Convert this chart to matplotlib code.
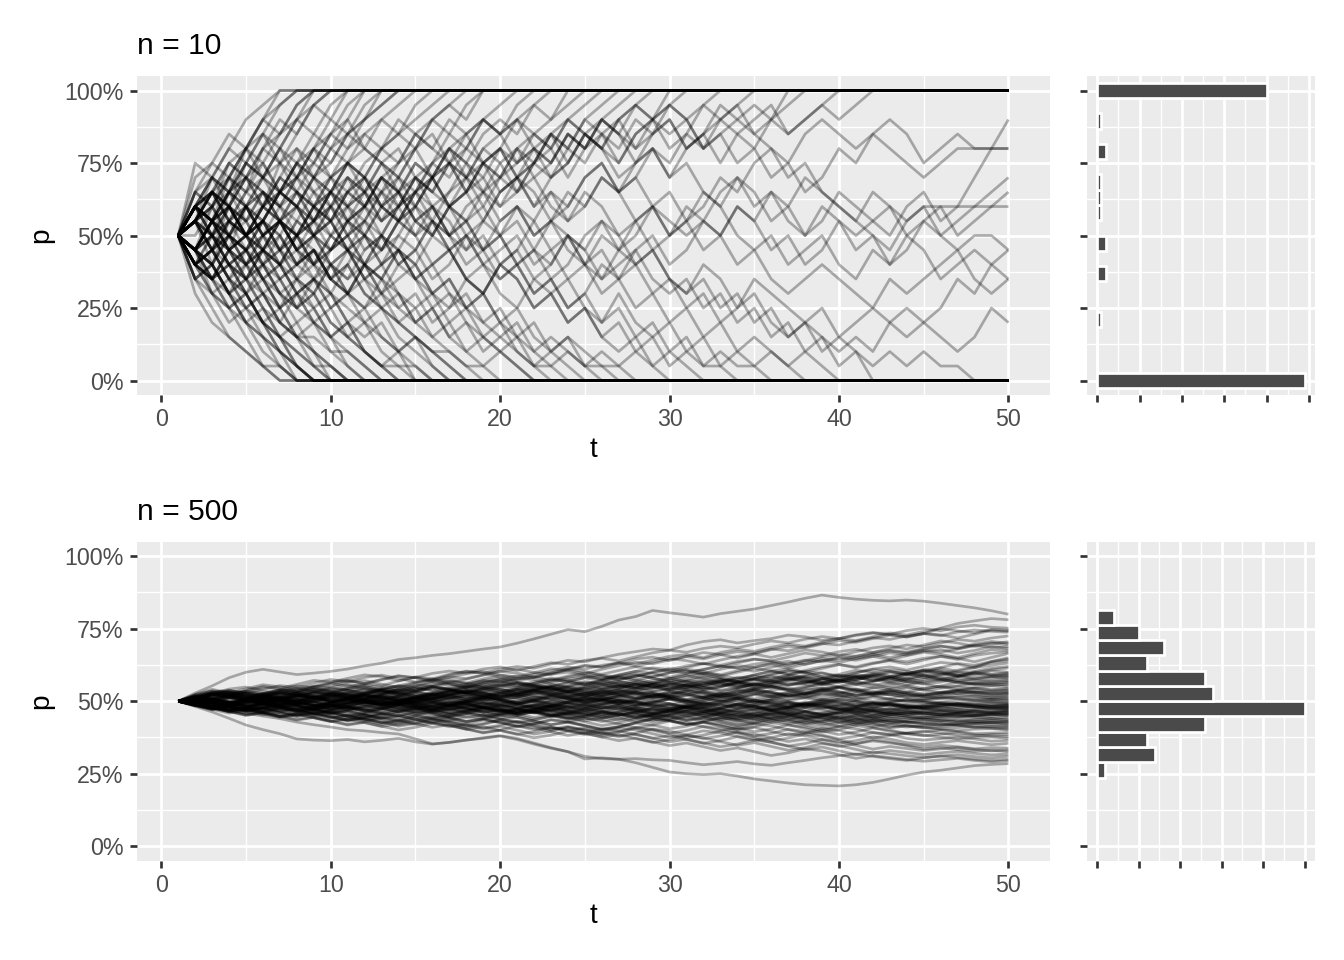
import matplotlib.pyplot as plt
import numpy as np

T = list(range(1, 51))

# n = 10: allele count out of 20 at t = 1, 2, ...; a path ends once fixed
paths_n10 = [
    # fixed at 1
    [10, 14, 15, 17, 16, 18, 20],
    [10, 12, 14, 13, 16, 18, 19, 20],
    [10, 11, 14, 16, 15, 17, 19, 20],
    [10, 9, 12, 13, 15, 17, 16, 18, 20],
    [10, 12, 11, 14, 13, 16, 17, 19, 20],
    [10, 13, 12, 14, 16, 15, 17, 18, 19, 20],
    [10, 11, 13, 12, 15, 14, 16, 18, 17, 19, 20],
    [10, 12, 10, 13, 14, 16, 15, 17, 19, 18, 20],
    [10, 9, 11, 13, 12, 14, 13, 15, 17, 16, 18, 20],
    [10, 11, 12, 15, 14, 12, 14, 16, 15, 17, 19, 20],
    [10, 8, 10, 9, 12, 11, 13, 15, 14, 16, 17, 19, 20],
    [10, 12, 13, 11, 13, 14, 16, 14, 15, 17, 16, 18, 20],
    [10, 10, 12, 14, 13, 15, 13, 14, 16, 18, 17, 18, 19, 20],
    [10, 11, 9, 12, 14, 13, 12, 14, 16, 15, 17, 18, 19, 20],
    [10, 9, 8, 11, 10, 12, 14, 13, 15, 14, 16, 17, 18, 19, 20],
    [10, 12, 14, 13, 11, 12, 15, 16, 14, 15, 17, 16, 18, 17, 19, 20],
    [10, 11, 13, 12, 10, 11, 13, 12, 14, 16, 15, 14, 16, 17, 18, 19, 20],
    [10, 8, 9, 7, 9, 10, 12, 11, 13, 14, 13, 15, 16, 15, 17, 18, 19, 20],
    [10, 12, 11, 9, 10, 12, 13, 12, 11, 13, 15, 14, 16, 17, 16, 18, 19, 18, 20],
    [10, 9, 11, 10, 12, 11, 13, 14, 12, 13, 15, 16, 15, 14, 16, 18, 17, 19, 20],
    [10, 11, 10, 12, 14, 15, 13, 12, 14, 13, 11, 12, 14, 15, 17, 16, 15, 17, 18, 19, 20],
    [10, 13, 14, 12, 11, 13, 12, 10, 11, 13, 14, 12, 13, 15, 16, 14, 16, 17, 18, 17, 19, 20],
    [10, 8, 7, 9, 8, 10, 11, 9, 11, 12, 14, 13, 15, 14, 12, 14, 16, 15, 17, 18, 17, 19, 20],
    [10, 12, 13, 15, 16, 14, 15, 13, 12, 14, 15, 13, 12, 14, 13, 15, 16, 14, 16, 17, 18, 19, 18, 20],
    [10, 9, 10, 12, 11, 9, 8, 10, 11, 13, 12, 14, 13, 11, 12, 14, 15, 13, 15, 16, 18, 17, 18, 19, 20],
    [10, 11, 13, 12, 10, 9, 11, 10, 12, 11, 13, 14, 12, 13, 15, 14, 16, 15, 13, 14, 16, 17, 16, 18, 19, 20],
    [10, 7, 8, 6, 8, 9, 11, 10, 8, 9, 11, 12, 10, 12, 13, 11, 13, 14, 15, 14, 16, 15, 17, 16, 18, 19, 20],
    [10, 12, 11, 13, 15, 14, 16, 15, 13, 12, 10, 11, 13, 12, 14, 13, 15, 14, 12, 14, 15, 16, 17, 15, 17, 18, 19, 20],
    [10, 11, 9, 10, 8, 9, 11, 12, 10, 11, 13, 12, 14, 13, 11, 10, 12, 14, 13, 15, 16, 14, 15, 17, 16, 18, 17, 19, 20],
    [10, 13, 15, 14, 16, 17, 15, 14, 16, 17, 18, 16, 15, 13, 14, 12, 13, 15, 14, 16, 15, 17, 16, 18, 17, 16, 18, 19, 18, 20],
    [10, 9, 11, 12, 10, 9, 7, 8, 10, 9, 11, 10, 12, 11, 13, 14, 12, 13, 15, 14, 13, 15, 16, 14, 16, 17, 15, 17, 18, 19, 20],
    [10, 12, 10, 11, 13, 12, 14, 13, 11, 10, 12, 13, 11, 12, 14, 13, 12, 10, 11, 13, 14, 16, 15, 17, 16, 18, 17, 16, 18, 19,
     18, 19, 20],
    [10, 11, 12, 10, 9, 11, 10, 8, 9, 7, 8, 10, 9, 11, 12, 10, 12, 13, 11, 13, 14, 12, 14, 15, 17, 16, 15, 17, 18, 16,
     17, 19, 18, 19, 20],
    [10, 8, 9, 11, 10, 12, 11, 9, 10, 12, 14, 13, 15, 16, 14, 15, 17, 16, 18, 17, 15, 16, 14, 15, 17, 16, 14, 15, 17, 18,
     16, 17, 19, 18, 19, 18, 20],
    [10, 12, 13, 11, 12, 10, 11, 13, 12, 14, 12, 11, 13, 14, 16, 17, 15, 16, 18, 17, 18, 16, 15, 17, 16, 18, 17, 15, 16, 14,
     16, 17, 18, 19, 17, 18, 19, 20],
    [10, 9, 10, 8, 7, 9, 8, 10, 11, 9, 10, 12, 11, 13, 12, 14, 15, 13, 14, 12, 13, 15, 14, 16, 15, 17, 18, 16, 17, 18,
     16, 17, 15, 17, 18, 19, 17, 18, 19, 20],
    [10, 11, 13, 14, 12, 13, 11, 12, 10, 11, 9, 10, 12, 11, 13, 14, 12, 11, 13, 12, 14, 13, 11, 12, 14, 15, 13, 14, 16, 15,
     17, 16, 18, 17, 16, 18, 17, 18, 19, 18, 19, 20],
    [10, 15, 14, 16, 18, 19, 20],
    [10, 11, 13, 15, 14, 16, 18, 17, 19, 20],
    [10, 13, 12, 14, 16, 18, 17, 19, 20],
    # fixed at 0
    [10, 7, 5, 3, 2, 1, 0],
    [10, 8, 6, 5, 3, 1, 1, 0],
    [10, 9, 7, 5, 4, 2, 1, 0],
    [10, 8, 7, 8, 6, 4, 3, 1, 0],
    [10, 7, 6, 4, 5, 3, 2, 1, 0],
    [10, 9, 8, 6, 7, 5, 3, 2, 1, 0],
    [10, 11, 9, 7, 6, 4, 5, 3, 1, 0],
    [10, 8, 9, 7, 5, 6, 4, 3, 2, 1, 0],
    [10, 9, 7, 8, 6, 4, 3, 4, 2, 1, 0],
    [10, 12, 10, 9, 7, 8, 6, 4, 5, 3, 1, 0],
    [10, 8, 6, 7, 5, 6, 4, 3, 3, 2, 1, 0],
    [10, 9, 10, 8, 9, 7, 5, 6, 4, 3, 2, 1, 0],
    [10, 11, 9, 8, 6, 7, 5, 3, 4, 2, 2, 1, 0],
    [10, 8, 7, 9, 8, 6, 7, 5, 4, 3, 4, 2, 1, 0],
    [10, 12, 11, 9, 10, 8, 6, 5, 6, 4, 3, 2, 1, 0],
    [10, 9, 11, 10, 8, 7, 5, 6, 4, 5, 3, 2, 1, 1, 0],
    [10, 7, 8, 6, 7, 5, 4, 6, 5, 3, 4, 2, 1, 2, 0],
    [10, 11, 12, 10, 9, 11, 9, 7, 8, 6, 5, 4, 3, 2, 1, 0],
    [10, 8, 9, 7, 6, 8, 7, 5, 6, 4, 3, 4, 2, 1, 1, 0],
    [10, 12, 10, 11, 9, 8, 10, 8, 7, 5, 6, 4, 5, 3, 2, 1, 0],
    [10, 9, 8, 10, 9, 7, 6, 7, 5, 6, 4, 5, 3, 2, 3, 1, 0],
    [10, 11, 9, 10, 12, 10, 8, 9, 7, 6, 8, 6, 5, 4, 3, 2, 1, 0],
    [10, 8, 10, 9, 7, 8, 6, 5, 7, 6, 4, 3, 4, 2, 3, 2, 1, 0],
    [10, 9, 11, 12, 10, 9, 7, 8, 9, 7, 6, 5, 6, 4, 3, 2, 2, 1, 0],
    [10, 12, 13, 11, 10, 11, 9, 8, 9, 7, 8, 6, 5, 4, 5, 3, 2, 1, 1, 0],
    [10, 9, 7, 8, 9, 7, 8, 10, 9, 7, 6, 8, 6, 5, 4, 5, 3, 2, 1, 2, 1, 0],
    [10, 11, 10, 8, 9, 10, 8, 7, 9, 8, 6, 7, 5, 6, 4, 3, 4, 2, 3, 2, 1, 0],
    [10, 8, 9, 11, 10, 12, 11, 9, 10, 8, 9, 7, 8, 6, 5, 6, 4, 5, 3, 2, 3, 1, 0],
    [10, 12, 11, 13, 12, 10, 11, 9, 8, 10, 9, 7, 6, 8, 7, 5, 6, 4, 3, 4, 2, 1, 1, 0],
    [10, 9, 10, 8, 7, 9, 8, 6, 7, 8, 6, 5, 7, 6, 4, 5, 3, 4, 2, 3, 2, 1, 2, 1, 0],
    [10, 11, 13, 12, 14, 13, 11, 10, 12, 11, 9, 10, 8, 9, 7, 6, 7, 5, 4, 5, 3, 2, 1, 2, 1, 0],
    [10, 8, 7, 9, 10, 8, 9, 11, 10, 8, 7, 8, 6, 7, 8, 6, 5, 6, 4, 3, 4, 2, 3, 2, 1, 1, 0],
    [10, 12, 11, 9, 10, 11, 13, 12, 10, 11, 9, 8, 10, 9, 7, 8, 6, 5, 6, 4, 5, 3, 2, 3, 1, 2, 1, 0],
    [10, 9, 8, 10, 11, 9, 10, 8, 9, 7, 6, 8, 7, 9, 8, 6, 7, 5, 6, 4, 3, 4, 2, 3, 2, 1, 1, 2, 1, 0],
    [10, 11, 12, 10, 9, 11, 10, 12, 11, 13, 12, 10, 9, 11, 10, 8, 9, 7, 8, 6, 5, 7, 6, 4, 5, 3, 2, 3, 1, 2,
     1, 0],
    [10, 9, 11, 10, 12, 13, 11, 10, 8, 9, 10, 8, 7, 9, 8, 10, 9, 7, 6, 8, 7, 5, 6, 4, 5, 3, 4, 2, 3, 1,
     2, 1, 1, 0],
    [10, 12, 14, 13, 15, 14, 12, 13, 11, 12, 10, 11, 9, 10, 12, 11, 9, 10, 8, 7, 8, 6, 7, 5, 6, 4, 5, 3, 4, 2,
     3, 1, 2, 1, 1, 0],
    [10, 8, 9, 7, 8, 10, 9, 11, 10, 9, 11, 10, 8, 9, 7, 8, 9, 7, 6, 8, 7, 5, 6, 7, 5, 4, 6, 4, 3, 4,
     2, 3, 1, 2, 1, 2, 1, 0],
    [10, 11, 10, 12, 11, 13, 12, 14, 13, 11, 12, 13, 11, 12, 10, 11, 9, 10, 8, 9, 10, 8, 9, 7, 8, 6, 7, 5, 6, 4,
     5, 3, 4, 2, 3, 2, 1, 2, 1, 0],
    [10, 12, 11, 13, 14, 12, 13, 15, 14, 12, 13, 14, 12, 11, 13, 12, 10, 11, 12, 10, 11, 9, 8, 10, 9, 7, 8, 9, 7, 6,
     7, 5, 6, 4, 5, 3, 4, 2, 3, 1, 2, 0],
    [10, 9, 11, 12, 10, 11, 13, 12, 14, 13, 15, 14, 12, 13, 11, 12, 10, 11, 9, 10, 12, 11, 9, 10, 8, 9, 7, 8, 9, 7,
     6, 7, 5, 6, 4, 5, 3, 4, 2, 3, 2, 1, 2, 1, 2, 1, 1, 0],
    [10, 6, 4, 3, 2, 1, 0],
    [10, 9, 7, 6, 4, 3, 2, 0],
    [10, 7, 8, 6, 4, 3, 1, 0],
    [10, 11, 8, 6, 5, 4, 2, 1, 0],
    [10, 8, 7, 5, 6, 4, 2, 1, 0],
    [10, 9, 8, 6, 4, 5, 3, 1, 0],
    [10, 12, 11, 9, 7, 6, 4, 3, 2, 0],
    [10, 9, 6, 5, 6, 4, 3, 2, 1, 1, 0],
    # not fixed by t = 50
    [10, 12, 11, 13, 12, 10, 11, 9, 10, 12, 11, 13, 14, 12, 13, 15, 14, 16, 15, 13, 14, 12, 13, 11, 12,
     14, 13, 15, 16, 14, 15, 13, 12, 14, 13, 11, 12, 10, 11, 13, 12, 11, 10, 12, 13, 11, 12, 14, 16, 18],
    [10, 9, 11, 10, 12, 14, 13, 15, 16, 14, 15, 17, 16, 18, 17, 16, 18, 17, 15, 16, 14, 15, 17, 16, 18,
     17, 16, 18, 17, 19, 18, 16, 17, 15, 16, 14, 15, 13, 14, 16, 15, 17, 16, 15, 14, 15, 16, 16, 16, 16],
    [10, 11, 9, 10, 8, 9, 11, 10, 12, 13, 11, 12, 14, 13, 15, 14, 12, 13, 15, 16, 14, 15, 17, 18, 17,
     16, 18, 19, 18, 17, 18, 16, 17, 18, 17, 16, 15, 17, 18, 17, 16, 17, 18, 17, 15, 16, 17, 16, 16, 16],
    [10, 8, 9, 11, 12, 10, 11, 13, 12, 10, 9, 11, 10, 8, 9, 7, 8, 10, 9, 11, 12, 10, 11, 13, 12,
     14, 13, 11, 12, 10, 11, 9, 10, 12, 11, 13, 12, 14, 13, 12, 11, 10, 9, 11, 12, 10, 11, 12, 13, 14],
    [10, 12, 13, 11, 10, 12, 11, 9, 8, 10, 11, 9, 10, 12, 14, 13, 15, 14, 16, 15, 13, 14, 12, 11, 13,
     12, 10, 11, 9, 10, 12, 11, 13, 14, 12, 13, 11, 10, 12, 11, 9, 10, 8, 9, 11, 12, 10, 11, 12, 13],
    [10, 11, 10, 8, 7, 9, 8, 6, 7, 9, 10, 8, 9, 11, 10, 12, 11, 9, 10, 8, 9, 11, 13, 12, 14,
     15, 13, 14, 12, 13, 11, 12, 14, 13, 15, 16, 14, 15, 13, 12, 11, 13, 12, 11, 12, 12, 12, 12, 12, 12],
    [10, 9, 11, 12, 10, 11, 9, 10, 8, 7, 9, 8, 10, 9, 11, 12, 10, 9, 11, 10, 8, 9, 7, 8, 10,
     11, 9, 10, 12, 11, 10, 11, 10, 12, 11, 9, 10, 8, 9, 11, 10, 11, 12, 10, 9, 7, 8, 9, 8, 9],
    [10, 12, 11, 9, 10, 8, 9, 7, 6, 8, 7, 9, 10, 8, 9, 11, 10, 12, 13, 11, 12, 10, 11, 9, 8,
     10, 9, 11, 12, 10, 11, 13, 12, 10, 9, 10, 8, 9, 10, 8, 7, 9, 8, 10, 11, 10, 9, 10, 10, 9],
    [10, 8, 7, 9, 8, 6, 5, 7, 6, 8, 9, 7, 8, 10, 9, 11, 10, 8, 9, 7, 8, 6, 7, 5, 6,
     8, 7, 9, 10, 8, 9, 11, 10, 8, 9, 7, 6, 7, 8, 7, 6, 5, 7, 6, 7, 8, 9, 7, 6, 7],
    [10, 11, 13, 12, 10, 11, 9, 10, 12, 11, 13, 12, 14, 13, 11, 10, 12, 11, 9, 10, 8, 9, 11, 10, 8,
     7, 9, 8, 6, 7, 5, 6, 4, 5, 7, 6, 5, 4, 5, 3, 4, 5, 4, 3, 4, 5, 7, 6, 8, 7],
    [10, 9, 8, 10, 9, 7, 8, 6, 7, 5, 6, 8, 7, 5, 6, 4, 5, 7, 6, 8, 9, 7, 8, 10, 9,
     11, 10, 8, 9, 7, 6, 8, 7, 5, 6, 4, 3, 4, 3, 2, 3, 2, 4, 5, 4, 3, 2, 3, 5, 4],
]

# n = 500: allele frequency in per mille at t = 1..50
paths_n500 = [
    [500, 528, 553, 581, 600, 610, 601, 592, 597, 603, 611, 622, 631, 644, 650, 658, 664, 672, 680, 687, 700, 715, 731, 747, 740, 758, 780, 792, 813, 805, 798, 790, 802, 810, 818, 830, 842, 855, 866, 858, 852, 848, 846, 849, 845, 838, 830, 822, 812, 800],
    [500, 512, 526, 519, 535, 548, 541, 533, 549, 562, 570, 561, 575, 588, 581, 573, 590, 602, 597, 611, 620, 614, 628, 641, 636, 650, 662, 671, 680, 676, 694, 706, 712, 701, 709, 716, 728, 722, 710, 716, 727, 735, 730, 722, 733, 752, 768, 777, 785, 781],
    [500, 488, 497, 512, 525, 519, 531, 545, 538, 552, 566, 571, 559, 548, 562, 575, 584, 578, 591, 603, 597, 584, 596, 611, 624, 619, 633, 628, 642, 655, 661, 650, 668, 679, 672, 686, 697, 690, 704, 716, 709, 722, 735, 728, 741, 750, 743, 736, 748, 745],
    [500, 509, 521, 530, 518, 505, 514, 528, 541, 537, 549, 561, 553, 570, 584, 578, 565, 576, 590, 603, 611, 599, 592, 608, 622, 617, 631, 646, 652, 640, 655, 668, 661, 649, 663, 678, 690, 684, 697, 709, 703, 716, 728, 721, 734, 729, 718, 731, 745, 742],
    [500, 494, 507, 516, 511, 526, 539, 533, 520, 529, 544, 556, 549, 537, 552, 568, 575, 563, 577, 590, 584, 598, 612, 607, 595, 610, 623, 635, 629, 643, 654, 646, 660, 671, 666, 680, 674, 688, 699, 694, 707, 719, 713, 725, 733, 726, 739, 746, 741, 738],
    [500, 503, 491, 506, 520, 514, 527, 519, 508, 523, 538, 531, 545, 552, 540, 556, 569, 562, 549, 563, 577, 584, 572, 587, 598, 593, 606, 619, 611, 602, 616, 630, 624, 637, 645, 639, 652, 666, 658, 671, 679, 668, 682, 694, 688, 701, 713, 707, 718, 725],
    [500, 518, 530, 524, 537, 551, 545, 558, 572, 566, 579, 591, 585, 570, 582, 596, 604, 597, 611, 618, 606, 620, 633, 627, 641, 648, 639, 653, 667, 676, 669, 682, 690, 684, 697, 708, 701, 714, 723, 716, 729, 737, 730, 744, 751, 743, 756, 762, 755, 752],
    [500, 489, 476, 490, 503, 497, 511, 524, 518, 505, 519, 532, 527, 541, 536, 522, 535, 549, 560, 554, 547, 561, 574, 568, 582, 590, 583, 571, 585, 598, 604, 596, 610, 623, 617, 630, 638, 626, 640, 653, 648, 661, 673, 666, 679, 690, 684, 697, 706, 700],
    [500, 515, 528, 536, 525, 513, 527, 540, 552, 546, 558, 551, 539, 553, 566, 572, 561, 548, 562, 575, 588, 581, 594, 600, 589, 576, 590, 603, 615, 609, 622, 630, 618, 632, 645, 639, 626, 640, 654, 661, 655, 668, 676, 669, 682, 690, 681, 693, 701, 695],
    [500, 507, 499, 485, 498, 512, 506, 519, 531, 525, 512, 526, 539, 545, 534, 548, 560, 553, 567, 574, 562, 549, 563, 577, 584, 578, 591, 603, 596, 583, 597, 610, 622, 615, 628, 634, 621, 635, 648, 641, 655, 663, 650, 664, 675, 669, 680, 692, 686, 688],
    [500, 494, 508, 521, 534, 527, 515, 503, 517, 530, 544, 551, 540, 527, 539, 552, 566, 559, 571, 580, 568, 556, 570, 583, 591, 585, 572, 586, 599, 607, 596, 609, 621, 614, 603, 617, 630, 642, 636, 649, 641, 654, 667, 659, 672, 678, 666, 675, 689, 682],
    [500, 513, 507, 495, 509, 522, 530, 519, 532, 546, 539, 527, 541, 554, 548, 535, 549, 558, 571, 565, 553, 567, 580, 573, 560, 574, 587, 595, 584, 598, 610, 603, 591, 605, 618, 626, 614, 628, 641, 633, 647, 655, 643, 657, 669, 662, 650, 664, 678, 676],
    [500, 486, 499, 513, 506, 520, 533, 527, 514, 500, 512, 525, 538, 531, 545, 552, 541, 529, 543, 556, 549, 562, 575, 568, 556, 570, 583, 577, 564, 578, 591, 598, 586, 600, 613, 605, 592, 606, 619, 627, 615, 629, 642, 636, 648, 655, 644, 658, 666, 670],
    [500, 511, 524, 518, 506, 492, 505, 519, 512, 526, 539, 547, 535, 522, 536, 549, 543, 530, 544, 557, 565, 553, 541, 555, 568, 561, 575, 588, 581, 569, 583, 596, 590, 577, 591, 604, 612, 600, 613, 626, 619, 632, 640, 628, 642, 655, 648, 636, 651, 665],
    [500, 522, 536, 529, 543, 557, 550, 538, 552, 565, 573, 560, 574, 587, 581, 568, 582, 595, 603, 591, 578, 592, 605, 618, 611, 624, 632, 620, 634, 647, 640, 628, 642, 655, 663, 651, 664, 677, 670, 657, 671, 684, 691, 680, 694, 708, 701, 689, 698, 705],
    [500, 493, 480, 494, 507, 501, 488, 502, 515, 509, 496, 510, 523, 531, 519, 506, 520, 533, 527, 514, 528, 541, 549, 537, 551, 564, 558, 545, 559, 572, 566, 553, 567, 580, 588, 576, 590, 603, 597, 584, 598, 611, 619, 607, 621, 634, 628, 615, 637, 650],
    [500, 517, 531, 524, 511, 498, 512, 526, 533, 521, 508, 522, 536, 529, 516, 530, 543, 551, 539, 526, 540, 553, 547, 534, 548, 561, 569, 557, 544, 558, 571, 565, 552, 566, 579, 587, 575, 562, 576, 589, 583, 570, 584, 597, 605, 593, 607, 620, 633, 640],
    [500, 488, 501, 515, 528, 522, 509, 495, 509, 522, 530, 518, 505, 519, 532, 546, 540, 527, 541, 554, 562, 550, 537, 551, 564, 558, 545, 559, 572, 580, 568, 555, 569, 582, 576, 563, 577, 590, 598, 586, 573, 587, 600, 594, 607, 615, 603, 616, 624, 632],
    [500, 506, 519, 513, 500, 487, 501, 514, 528, 535, 523, 510, 524, 538, 531, 518, 532, 545, 553, 541, 528, 542, 555, 549, 536, 550, 563, 571, 559, 546, 560, 573, 567, 554, 568, 581, 589, 577, 564, 578, 591, 585, 572, 586, 599, 607, 595, 603, 614, 620],
    [500, 498, 511, 525, 518, 505, 519, 532, 540, 528, 515, 529, 542, 536, 523, 509, 523, 537, 544, 532, 519, 533, 546, 540, 527, 541, 554, 562, 550, 537, 551, 564, 558, 545, 559, 572, 580, 568, 555, 569, 582, 576, 563, 577, 590, 598, 586, 599, 608, 615],
    [500, 524, 541, 530, 516, 527, 539, 553, 547, 533, 520, 512, 526, 543, 558, 551, 537, 548, 563, 570, 556, 542, 550, 566, 580, 573, 559, 548, 561, 577, 588, 579, 566, 574, 590, 603, 595, 582, 570, 583, 598, 610, 604, 591, 600, 616, 630, 624, 637, 645],
    [500, 486, 472, 481, 495, 510, 503, 489, 497, 512, 526, 519, 505, 491, 503, 518, 532, 540, 529, 515, 522, 537, 551, 545, 531, 518, 530, 544, 559, 566, 553, 540, 549, 563, 576, 569, 555, 562, 577, 590, 584, 570, 578, 593, 606, 599, 587, 592, 605, 600],
    [500, 513, 529, 538, 527, 541, 554, 548, 563, 575, 568, 582, 590, 579, 566, 577, 593, 604, 597, 583, 571, 582, 598, 610, 603, 589, 576, 585, 600, 613, 606, 592, 580, 568, 579, 594, 606, 599, 585, 572, 583, 597, 609, 603, 590, 578, 587, 601, 593, 598],
    [500, 491, 504, 497, 484, 470, 483, 497, 490, 476, 489, 503, 516, 509, 495, 508, 522, 530, 518, 505, 513, 527, 540, 534, 520, 532, 546, 559, 552, 538, 547, 561, 574, 568, 554, 566, 580, 573, 560, 571, 585, 592, 580, 567, 575, 589, 601, 594, 588, 595],
    [500, 507, 520, 514, 528, 521, 507, 516, 530, 543, 537, 524, 511, 520, 534, 547, 541, 528, 536, 550, 563, 556, 543, 530, 539, 553, 566, 560, 547, 555, 569, 582, 576, 563, 550, 559, 573, 586, 580, 567, 575, 589, 602, 595, 582, 573, 584, 597, 591, 590],
    [500, 519, 512, 498, 507, 521, 534, 527, 513, 500, 509, 523, 536, 530, 517, 526, 540, 553, 547, 534, 542, 556, 549, 535, 522, 531, 545, 558, 552, 539, 547, 561, 574, 568, 555, 563, 577, 570, 557, 565, 579, 592, 586, 573, 581, 594, 588, 576, 580, 585],
    [500, 495, 482, 490, 504, 518, 511, 497, 485, 494, 508, 521, 515, 502, 511, 525, 538, 532, 519, 527, 541, 534, 521, 530, 544, 557, 551, 538, 546, 560, 553, 540, 549, 563, 576, 570, 557, 565, 578, 572, 559, 567, 581, 594, 588, 575, 569, 577, 585, 580],
    [500, 510, 523, 531, 520, 507, 515, 529, 542, 536, 523, 510, 518, 532, 545, 539, 526, 534, 548, 541, 528, 537, 551, 564, 558, 545, 553, 567, 560, 547, 556, 570, 563, 550, 558, 572, 585, 579, 566, 574, 588, 581, 568, 576, 590, 583, 571, 565, 572, 577],
    [500, 488, 497, 511, 504, 491, 478, 487, 501, 514, 508, 495, 503, 517, 530, 524, 511, 519, 533, 546, 540, 527, 535, 549, 542, 529, 538, 552, 565, 559, 546, 554, 568, 561, 548, 557, 571, 584, 578, 565, 573, 587, 580, 567, 559, 566, 579, 573, 568, 572],
    [500, 514, 507, 521, 534, 528, 515, 502, 511, 525, 518, 505, 492, 501, 515, 528, 522, 509, 517, 531, 544, 538, 525, 533, 547, 540, 527, 536, 550, 563, 557, 544, 552, 566, 559, 546, 555, 569, 562, 549, 557, 571, 584, 578, 565, 573, 566, 560, 563, 568],
    [500, 503, 516, 529, 523, 510, 497, 506, 520, 513, 500, 487, 496, 510, 523, 517, 504, 512, 526, 539, 533, 520, 528, 542, 535, 522, 531, 545, 558, 552, 539, 547, 561, 554, 541, 550, 564, 557, 544, 552, 566, 559, 546, 555, 569, 576, 564, 557, 561, 565],
    [500, 492, 505, 519, 512, 526, 539, 533, 520, 507, 516, 530, 523, 510, 497, 506, 520, 533, 527, 514, 522, 536, 529, 516, 525, 539, 552, 546, 533, 541, 555, 548, 535, 544, 558, 551, 538, 547, 561, 574, 568, 555, 563, 556, 543, 552, 566, 559, 554, 560],
    [500, 485, 494, 481, 468, 477, 491, 504, 498, 485, 493, 507, 520, 514, 501, 509, 523, 536, 530, 517, 525, 539, 532, 519, 528, 542, 555, 549, 536, 544, 558, 551, 538, 547, 561, 554, 541, 550, 564, 571, 559, 546, 554, 568, 561, 548, 553, 562, 559, 556],
    [500, 511, 527, 542, 549, 537, 524, 533, 547, 560, 554, 541, 528, 537, 551, 564, 558, 545, 553, 567, 580, 574, 561, 548, 557, 571, 584, 591, 579, 566, 574, 588, 581, 568, 577, 591, 604, 598, 585, 593, 607, 600, 587, 596, 609, 603, 590, 582, 585, 588],
    [500, 509, 496, 483, 491, 505, 518, 512, 499, 486, 495, 509, 522, 516, 503, 511, 525, 532, 520, 507, 515, 529, 522, 509, 496, 505, 519, 532, 526, 513, 521, 535, 528, 515, 524, 538, 545, 533, 520, 528, 542, 535, 522, 531, 545, 552, 540, 547, 553, 550],
    [500, 517, 530, 524, 511, 498, 506, 520, 533, 527, 514, 501, 488, 497, 511, 524, 518, 505, 513, 527, 520, 507, 494, 503, 517, 530, 524, 511, 519, 533, 526, 513, 522, 536, 543, 531, 518, 526, 540, 533, 520, 529, 543, 550, 538, 545, 551, 544, 540, 545],
    [500, 496, 483, 470, 479, 493, 506, 500, 487, 474, 483, 497, 510, 504, 491, 499, 513, 526, 520, 507, 515, 529, 522, 509, 518, 532, 539, 527, 514, 522, 536, 529, 516, 525, 539, 532, 519, 528, 542, 549, 537, 524, 532, 546, 539, 530, 536, 545, 538, 541],
    [500, 512, 505, 492, 500, 514, 527, 521, 508, 516, 530, 543, 537, 524, 511, 520, 534, 527, 514, 522, 536, 549, 543, 530, 517, 525, 539, 532, 519, 528, 542, 535, 522, 531, 545, 552, 540, 527, 535, 549, 542, 529, 538, 533, 526, 531, 540, 536, 534, 538],
    [500, 491, 484, 497, 510, 504, 491, 499, 513, 526, 520, 507, 494, 502, 516, 509, 496, 505, 519, 532, 526, 513, 521, 535, 528, 515, 502, 511, 525, 518, 505, 514, 528, 541, 535, 522, 530, 544, 537, 524, 533, 547, 540, 527, 521, 528, 537, 531, 530, 534],
    [500, 506, 520, 533, 527, 514, 522, 509, 496, 505, 519, 512, 499, 486, 495, 509, 522, 516, 503, 511, 525, 518, 505, 514, 528, 535, 523, 510, 518, 532, 525, 512, 521, 535, 528, 515, 524, 538, 545, 533, 520, 528, 522, 515, 521, 530, 526, 533, 527, 530],
    [500, 489, 502, 496, 483, 491, 505, 518, 512, 499, 507, 521, 514, 501, 488, 497, 511, 518, 506, 493, 501, 515, 508, 495, 504, 518, 531, 525, 512, 520, 534, 527, 514, 523, 537, 530, 517, 526, 540, 547, 535, 522, 530, 524, 517, 523, 532, 528, 521, 526],
    [500, 513, 526, 520, 507, 515, 529, 522, 509, 496, 504, 518, 531, 525, 512, 520, 534, 541, 529, 516, 524, 538, 531, 518, 505, 514, 528, 521, 508, 517, 531, 524, 511, 520, 534, 527, 514, 523, 537, 530, 517, 526, 533, 521, 515, 519, 528, 524, 518, 522],
    [500, 498, 485, 493, 507, 500, 487, 474, 483, 497, 510, 504, 491, 499, 513, 526, 520, 507, 515, 508, 495, 504, 518, 511, 498, 507, 521, 534, 528, 515, 523, 516, 503, 512, 526, 519, 506, 515, 529, 522, 509, 518, 525, 513, 507, 511, 520, 516, 512, 518],
    [500, 509, 523, 536, 530, 517, 504, 512, 526, 519, 506, 493, 501, 515, 508, 495, 482, 491, 505, 518, 512, 499, 507, 521, 514, 501, 510, 524, 531, 519, 506, 514, 528, 521, 508, 517, 531, 524, 511, 520, 513, 500, 509, 523, 516, 510, 514, 519, 511, 514],
    [500, 494, 481, 489, 503, 516, 510, 497, 505, 519, 512, 499, 486, 495, 509, 502, 489, 498, 512, 525, 519, 506, 514, 528, 521, 508, 495, 504, 518, 511, 498, 507, 521, 514, 501, 510, 524, 517, 504, 513, 527, 520, 507, 501, 508, 516, 511, 505, 507, 510],
    [500, 515, 508, 495, 503, 517, 530, 524, 511, 498, 506, 520, 513, 500, 487, 496, 510, 523, 517, 504, 491, 500, 514, 507, 494, 503, 517, 530, 524, 511, 519, 512, 499, 508, 522, 515, 502, 511, 525, 518, 505, 514, 507, 498, 503, 511, 508, 501, 503, 506],
    [500, 488, 476, 485, 499, 512, 506, 493, 501, 515, 528, 522, 509, 496, 504, 518, 511, 498, 485, 494, 508, 501, 488, 497, 511, 524, 518, 505, 513, 506, 493, 502, 516, 509, 496, 505, 519, 512, 499, 508, 501, 494, 500, 507, 502, 497, 504, 509, 506, 503],
    [500, 521, 535, 528, 515, 523, 537, 544, 532, 519, 527, 541, 534, 521, 508, 517, 531, 524, 511, 519, 533, 546, 540, 527, 514, 522, 536, 529, 516, 525, 539, 532, 519, 528, 542, 549, 537, 524, 532, 546, 539, 526, 535, 529, 522, 527, 536, 531, 525, 528],
    [500, 511, 504, 491, 499, 513, 506, 493, 480, 489, 503, 496, 483, 491, 505, 518, 512, 499, 507, 500, 487, 474, 483, 497, 510, 504, 491, 499, 492, 479, 488, 502, 515, 509, 496, 504, 497, 484, 493, 507, 500, 487, 495, 502, 496, 490, 494, 501, 497, 498],
    [500, 493, 506, 519, 513, 500, 508, 522, 515, 502, 489, 497, 511, 504, 491, 478, 487, 501, 494, 481, 490, 504, 517, 511, 498, 506, 499, 486, 495, 509, 502, 489, 498, 512, 505, 492, 479, 488, 502, 495, 482, 491, 498, 505, 499, 492, 488, 494, 499, 495],
    [500, 506, 494, 481, 490, 477, 486, 500, 513, 507, 494, 502, 516, 509, 496, 483, 492, 506, 499, 486, 495, 509, 522, 516, 503, 511, 504, 491, 478, 487, 501, 494, 481, 490, 504, 497, 484, 493, 507, 500, 487, 496, 489, 482, 488, 497, 493, 486, 489, 492],
    [500, 487, 478, 492, 505, 499, 486, 494, 508, 521, 515, 502, 489, 498, 512, 505, 492, 500, 514, 507, 494, 481, 490, 504, 497, 484, 492, 506, 519, 513, 500, 508, 501, 488, 475, 484, 498, 491, 478, 487, 501, 494, 481, 490, 497, 491, 484, 488, 494, 490],
    [500, 512, 525, 518, 505, 492, 501, 488, 475, 484, 498, 511, 505, 492, 499, 486, 473, 482, 496, 489, 476, 485, 499, 512, 506, 493, 501, 488, 497, 511, 504, 491, 478, 487, 501, 494, 481, 490, 504, 497, 484, 493, 486, 479, 485, 492, 487, 482, 485, 488],
    [500, 495, 482, 469, 478, 492, 486, 473, 481, 495, 508, 502, 489, 497, 511, 504, 491, 478, 487, 501, 494, 481, 468, 477, 491, 504, 498, 485, 493, 507, 500, 487, 495, 509, 502, 489, 476, 485, 499, 492, 479, 488, 495, 483, 477, 484, 491, 486, 482, 485],
    [500, 508, 521, 515, 502, 489, 497, 484, 471, 480, 494, 507, 501, 488, 496, 510, 503, 490, 477, 486, 500, 493, 480, 488, 502, 515, 509, 496, 504, 491, 478, 487, 501, 494, 481, 468, 477, 491, 484, 471, 480, 494, 487, 474, 480, 489, 485, 478, 481, 483],
    [500, 490, 503, 497, 484, 492, 506, 519, 513, 500, 487, 474, 483, 497, 490, 477, 486, 500, 513, 507, 494, 502, 489, 476, 485, 499, 492, 479, 466, 475, 489, 482, 469, 478, 492, 505, 499, 486, 494, 481, 468, 477, 491, 484, 478, 484, 490, 483, 477, 480],
    [500, 497, 510, 523, 517, 504, 491, 499, 486, 473, 482, 496, 489, 476, 463, 472, 486, 499, 493, 480, 488, 502, 495, 482, 491, 505, 518, 512, 499, 507, 494, 481, 490, 504, 497, 484, 471, 480, 494, 487, 474, 483, 490, 478, 472, 479, 486, 481, 475, 478],
    [500, 486, 473, 482, 496, 509, 503, 490, 498, 485, 472, 481, 495, 488, 475, 462, 471, 485, 498, 492, 479, 487, 501, 494, 481, 490, 504, 497, 484, 471, 480, 494, 507, 501, 488, 475, 484, 498, 491, 478, 465, 474, 488, 481, 475, 471, 479, 482, 473, 476],
    [500, 514, 507, 494, 481, 490, 504, 497, 484, 492, 479, 466, 475, 489, 502, 496, 483, 491, 478, 465, 474, 488, 481, 468, 477, 491, 504, 498, 485, 493, 480, 467, 476, 490, 483, 470, 479, 493, 486, 473, 482, 476, 469, 475, 482, 478, 471, 468, 472, 474],
    [500, 503, 490, 477, 486, 500, 513, 507, 494, 481, 490, 504, 497, 484, 471, 480, 494, 487, 474, 461, 470, 484, 477, 464, 473, 487, 500, 494, 481, 489, 476, 463, 472, 486, 479, 466, 475, 489, 482, 469, 478, 465, 472, 480, 475, 468, 463, 470, 476, 472],
    [500, 492, 479, 488, 502, 495, 482, 469, 478, 492, 505, 499, 486, 494, 481, 468, 455, 464, 478, 471, 458, 467, 481, 494, 488, 475, 483, 470, 457, 466, 480, 473, 460, 469, 483, 496, 490, 477, 485, 472, 459, 468, 475, 463, 457, 464, 471, 466, 462, 470],
    [500, 509, 522, 516, 503, 490, 498, 485, 472, 481, 495, 488, 475, 462, 471, 485, 498, 492, 479, 487, 474, 461, 470, 484, 477, 464, 451, 460, 474, 467, 454, 463, 477, 490, 484, 471, 479, 466, 453, 462, 476, 469, 462, 468, 475, 470, 463, 460, 465, 468],
    [500, 494, 481, 468, 477, 491, 504, 498, 485, 493, 480, 467, 476, 490, 483, 470, 457, 466, 480, 473, 460, 469, 483, 496, 490, 477, 485, 472, 459, 468, 482, 475, 462, 449, 458, 472, 465, 452, 461, 475, 468, 455, 464, 471, 459, 453, 460, 467, 462, 466],
    [500, 512, 505, 492, 479, 488, 475, 462, 471, 485, 478, 465, 474, 488, 501, 495, 482, 490, 477, 464, 473, 487, 480, 467, 454, 463, 477, 470, 457, 466, 480, 493, 487, 474, 482, 469, 456, 465, 479, 472, 459, 468, 461, 455, 462, 469, 464, 458, 461, 464],
    [500, 489, 497, 484, 471, 480, 494, 507, 501, 488, 475, 484, 498, 491, 478, 465, 474, 488, 481, 468, 455, 464, 478, 491, 485, 472, 480, 467, 454, 463, 477, 470, 457, 444, 453, 467, 460, 447, 456, 470, 463, 450, 459, 466, 460, 454, 458, 465, 459, 462],
    [500, 506, 493, 480, 489, 503, 496, 483, 470, 479, 493, 506, 500, 487, 495, 482, 469, 478, 492, 485, 472, 459, 468, 482, 475, 462, 471, 485, 498, 492, 479, 487, 474, 461, 470, 484, 477, 464, 451, 460, 474, 467, 454, 461, 468, 462, 456, 452, 457, 460],
    [500, 491, 478, 465, 474, 488, 481, 468, 477, 491, 504, 498, 485, 472, 481, 495, 488, 475, 462, 471, 485, 478, 465, 452, 461, 475, 488, 482, 469, 477, 464, 451, 460, 474, 467, 454, 463, 477, 470, 457, 444, 453, 462, 456, 450, 455, 462, 457, 453, 458],
    [500, 513, 506, 493, 480, 467, 476, 490, 483, 470, 479, 493, 506, 500, 487, 474, 483, 497, 490, 477, 464, 473, 487, 480, 467, 454, 463, 477, 470, 457, 466, 480, 473, 460, 447, 456, 470, 463, 450, 459, 473, 466, 453, 460, 465, 458, 452, 449, 453, 456],
    [500, 497, 484, 471, 480, 494, 487, 474, 461, 470, 484, 497, 491, 478, 486, 473, 460, 469, 483, 476, 463, 472, 486, 479, 466, 453, 462, 476, 489, 483, 470, 478, 465, 452, 461, 475, 468, 455, 442, 451, 465, 458, 445, 452, 459, 453, 447, 451, 457, 454],
    [500, 488, 475, 484, 498, 491, 478, 465, 474, 461, 448, 457, 471, 484, 478, 465, 473, 460, 447, 456, 470, 463, 450, 459, 473, 486, 480, 467, 475, 462, 449, 458, 472, 465, 452, 439, 448, 462, 455, 442, 451, 465, 458, 448, 443, 450, 456, 449, 447, 452],
    [500, 508, 495, 482, 491, 478, 465, 474, 488, 481, 468, 477, 491, 504, 498, 485, 472, 481, 468, 455, 464, 478, 471, 458, 467, 481, 474, 461, 448, 457, 471, 464, 451, 460, 474, 467, 454, 441, 450, 464, 457, 444, 453, 460, 454, 448, 445, 451, 455, 450],
    [500, 517, 510, 497, 505, 519, 512, 499, 486, 495, 509, 522, 516, 503, 511, 498, 485, 494, 508, 501, 488, 475, 484, 498, 511, 505, 492, 500, 487, 474, 483, 497, 490, 477, 486, 500, 493, 480, 489, 503, 496, 483, 492, 486, 480, 487, 493, 488, 483, 486],
    [500, 486, 499, 512, 506, 493, 480, 489, 503, 496, 483, 470, 479, 493, 486, 473, 482, 496, 509, 503, 490, 498, 485, 472, 481, 495, 488, 475, 462, 471, 485, 478, 491, 484, 471, 480, 494, 487, 474, 483, 490, 477, 471, 478, 485, 481, 474, 477, 482, 479],
    [500, 491, 478, 487, 474, 461, 470, 484, 477, 464, 451, 460, 474, 487, 481, 468, 476, 463, 450, 459, 473, 466, 453, 440, 449, 463, 456, 443, 452, 466, 479, 473, 460, 468, 455, 442, 451, 465, 458, 445, 432, 441, 455, 448, 442, 447, 453, 446, 441, 445],
    [500, 509, 496, 483, 470, 479, 493, 486, 473, 460, 469, 483, 476, 463, 472, 486, 499, 493, 480, 467, 476, 463, 450, 459, 473, 466, 453, 462, 449, 436, 445, 459, 452, 439, 448, 462, 455, 442, 451, 438, 425, 434, 448, 441, 435, 441, 447, 439, 436, 440],
    [500, 494, 481, 468, 477, 491, 484, 471, 458, 467, 481, 474, 461, 470, 457, 444, 453, 467, 480, 474, 461, 469, 456, 443, 452, 466, 459, 446, 455, 469, 462, 449, 436, 445, 459, 452, 439, 426, 435, 449, 442, 429, 438, 445, 439, 432, 430, 437, 441, 436],
    [500, 487, 474, 483, 497, 490, 477, 464, 473, 487, 480, 467, 454, 463, 477, 490, 484, 471, 479, 466, 453, 462, 476, 469, 456, 443, 452, 466, 459, 446, 433, 442, 456, 449, 436, 445, 459, 452, 439, 426, 435, 449, 442, 430, 425, 432, 438, 431, 428, 432],
    [500, 503, 490, 477, 464, 473, 460, 447, 456, 470, 463, 450, 459, 473, 486, 480, 467, 475, 462, 449, 458, 472, 465, 452, 439, 448, 462, 455, 442, 451, 465, 458, 445, 432, 441, 455, 448, 435, 422, 431, 445, 438, 425, 432, 439, 433, 427, 423, 426, 428],
    [500, 492, 505, 498, 485, 472, 481, 468, 455, 464, 478, 471, 458, 445, 454, 468, 481, 475, 462, 470, 457, 444, 453, 467, 460, 447, 434, 443, 457, 450, 437, 446, 460, 453, 440, 427, 436, 450, 443, 430, 417, 426, 434, 428, 421, 418, 425, 430, 427, 424],
    [500, 485, 472, 459, 468, 482, 475, 462, 449, 458, 472, 485, 479, 466, 474, 461, 448, 457, 471, 464, 451, 438, 447, 461, 454, 441, 450, 464, 477, 471, 458, 466, 453, 440, 449, 463, 456, 443, 430, 439, 453, 446, 433, 426, 431, 424, 418, 423, 426, 420],
    [500, 511, 498, 485, 494, 508, 501, 488, 475, 484, 471, 458, 467, 481, 474, 461, 448, 457, 471, 484, 478, 465, 473, 460, 447, 456, 443, 430, 439, 453, 446, 433, 442, 456, 449, 436, 423, 432, 446, 439, 426, 413, 422, 429, 423, 417, 420, 424, 419, 416],
    [500, 496, 483, 470, 479, 466, 453, 462, 476, 469, 456, 443, 452, 466, 479, 473, 460, 468, 455, 442, 451, 465, 458, 445, 432, 441, 455, 448, 435, 444, 458, 451, 438, 425, 434, 448, 441, 428, 415, 424, 438, 431, 418, 411, 416, 422, 417, 410, 414, 412],
    [500, 489, 476, 463, 472, 459, 446, 455, 469, 462, 449, 436, 445, 459, 452, 439, 448, 462, 475, 469, 456, 464, 451, 438, 447, 461, 454, 441, 428, 437, 451, 444, 431, 418, 427, 441, 434, 421, 430, 444, 437, 424, 411, 418, 412, 405, 409, 414, 411, 408],
    [500, 507, 494, 481, 468, 477, 491, 484, 471, 458, 467, 454, 441, 450, 464, 457, 444, 431, 440, 454, 467, 461, 448, 456, 443, 430, 439, 453, 446, 433, 420, 429, 443, 436, 423, 432, 446, 439, 426, 413, 422, 435, 428, 415, 408, 412, 418, 411, 407, 404],
    [500, 493, 480, 467, 454, 463, 477, 470, 457, 444, 453, 440, 427, 436, 450, 463, 457, 444, 452, 439, 426, 435, 449, 442, 429, 416, 425, 439, 452, 446, 433, 441, 428, 415, 424, 438, 431, 418, 405, 414, 428, 421, 408, 415, 409, 402, 398, 404, 406, 400],
    [500, 515, 508, 495, 482, 491, 505, 498, 485, 472, 481, 495, 488, 475, 462, 471, 485, 478, 465, 452, 461, 475, 468, 455, 464, 478, 471, 458, 445, 454, 468, 461, 448, 435, 444, 458, 451, 438, 447, 461, 454, 441, 432, 438, 445, 439, 433, 428, 434, 430],
    [500, 509, 496, 482, 470, 479, 466, 452, 461, 447, 434, 443, 457, 450, 437, 424, 433, 447, 440, 427, 414, 423, 437, 430, 417, 404, 413, 427, 440, 434, 421, 429, 416, 403, 412, 426, 419, 406, 393, 402, 416, 409, 396, 389, 394, 401, 396, 388, 390, 392],
    [500, 491, 478, 465, 474, 461, 448, 457, 443, 430, 439, 453, 446, 433, 420, 429, 443, 456, 450, 437, 445, 432, 419, 428, 442, 435, 422, 409, 418, 432, 425, 412, 399, 408, 422, 415, 402, 389, 398, 412, 405, 392, 385, 391, 397, 390, 383, 380, 386, 385],
    [500, 484, 470, 479, 466, 453, 462, 476, 469, 456, 443, 452, 439, 426, 435, 449, 442, 429, 438, 452, 445, 432, 419, 428, 415, 402, 411, 425, 418, 405, 414, 428, 421, 408, 395, 404, 418, 411, 398, 385, 394, 408, 401, 388, 381, 386, 392, 385, 380, 378],
    [500, 506, 493, 480, 467, 476, 490, 483, 470, 457, 466, 453, 440, 449, 463, 456, 443, 430, 439, 425, 412, 421, 435, 428, 415, 402, 411, 425, 438, 432, 419, 427, 414, 401, 410, 396, 383, 392, 406, 399, 386, 373, 382, 389, 383, 376, 370, 375, 377, 372],
    [500, 490, 477, 464, 451, 460, 474, 467, 454, 441, 450, 437, 424, 433, 447, 440, 427, 414, 423, 437, 430, 417, 404, 413, 400, 387, 396, 410, 403, 390, 399, 413, 406, 393, 380, 389, 403, 396, 383, 370, 379, 392, 385, 372, 366, 371, 377, 370, 362, 365],
    [500, 497, 484, 471, 458, 467, 481, 474, 461, 448, 435, 444, 458, 451, 438, 425, 412, 421, 435, 428, 415, 402, 411, 398, 385, 394, 408, 401, 388, 375, 384, 398, 391, 378, 365, 374, 388, 381, 368, 355, 364, 377, 370, 357, 351, 358, 364, 357, 350, 355],
    [500, 487, 474, 483, 470, 457, 444, 453, 467, 460, 447, 434, 421, 430, 444, 437, 424, 411, 420, 434, 427, 414, 401, 410, 397, 384, 393, 407, 400, 387, 374, 383, 397, 390, 377, 364, 373, 387, 380, 367, 354, 363, 356, 349, 342, 348, 343, 336, 340, 338],
    [500, 493, 480, 467, 476, 463, 450, 437, 446, 433, 420, 429, 443, 436, 423, 410, 419, 405, 392, 401, 415, 408, 395, 382, 391, 405, 398, 385, 372, 381, 368, 355, 364, 378, 371, 358, 345, 354, 368, 361, 348, 335, 344, 337, 330, 336, 341, 334, 329, 332],
    [500, 508, 495, 482, 469, 478, 465, 452, 461, 448, 435, 444, 431, 418, 427, 441, 434, 421, 408, 417, 431, 424, 411, 398, 407, 394, 381, 390, 404, 397, 384, 371, 380, 394, 387, 374, 361, 370, 357, 344, 353, 367, 360, 347, 334, 340, 333, 328, 331, 326],
    [500, 490, 477, 486, 473, 460, 447, 456, 443, 430, 439, 426, 413, 422, 436, 429, 416, 403, 412, 399, 386, 395, 409, 402, 389, 376, 385, 371, 358, 367, 381, 374, 361, 348, 357, 344, 331, 340, 354, 347, 334, 321, 330, 323, 316, 322, 327, 320, 315, 318],
    [500, 504, 491, 478, 465, 474, 461, 448, 457, 444, 431, 440, 427, 414, 423, 437, 430, 417, 404, 413, 400, 387, 396, 410, 403, 390, 377, 386, 373, 360, 369, 356, 343, 352, 366, 359, 346, 333, 342, 329, 316, 325, 319, 312, 306, 311, 316, 309, 305, 310],
    [500, 488, 479, 470, 458, 449, 440, 428, 419, 411, 402, 398, 392, 387, 370, 353, 358, 366, 374, 381, 372, 356, 340, 326, 301, 305, 300, 302, 298, 296, 288, 281, 286, 292, 284, 279, 288, 296, 305, 312, 318, 310, 302, 296, 305, 311, 306, 300, 296, 300],
    [500, 491, 478, 465, 452, 461, 448, 435, 444, 431, 418, 427, 414, 401, 410, 424, 417, 404, 391, 400, 387, 374, 383, 397, 390, 377, 364, 373, 360, 347, 356, 343, 330, 339, 326, 313, 322, 336, 329, 316, 303, 312, 306, 299, 293, 298, 303, 296, 291, 295],
    [500, 482, 463, 441, 418, 402, 388, 370, 366, 364, 368, 360, 365, 372, 360, 352, 358, 366, 372, 380, 368, 352, 338, 326, 310, 302, 300, 288, 272, 256, 250, 247, 250, 242, 232, 225, 218, 212, 210, 208, 212, 220, 232, 245, 256, 262, 270, 278, 282, 285],
]

P_TICKS = [0, 0.25, 0.5, 0.75, 1]
P_LABELS = ["0%", "25%", "50%", "75%", "100%"]
T_TICKS = [0, 10, 20, 30, 40, 50]
BIN_EDGES = (np.arange(21) - 0.5) / 19

BG = "#EBEBEB"
TICK_TEXT = "#4D4D4D"
LW = 1.35


def full_length(path):
    # a fixed allele stays at 0 or 1 up to t = 50
    return path + [path[-1]] * (len(T) - len(path))


def style_panel(ax, show_labels=True):
    ax.set_facecolor(BG)
    for spine in ax.spines.values():
        spine.set_visible(False)
    ax.set_axisbelow(True)
    ax.grid(which="major", color="white", linewidth=LW)
    ax.grid(which="minor", color="white", linewidth=LW / 2)
    ax.tick_params(which="major", length=3.5, width=LW, color="#333333",
                   labelsize=11.6, labelcolor=TICK_TEXT, pad=3.2,
                   labelleft=show_labels, labelbottom=show_labels)
    ax.tick_params(which="minor", length=0)
    ax.set_ylim(-0.05, 1.05)
    ax.set_yticks(P_TICKS)
    ax.set_yticks([0.125, 0.375, 0.625, 0.875], minor=True)


def draw_paths(ax, paths):
    for p in paths:
        ax.plot(T, p, color="black", alpha=0.3, linewidth=LW,
                solid_capstyle="butt", solid_joinstyle="round")
    style_panel(ax)
    ax.set_xlim(1 - 0.05 * 49, 50 + 0.05 * 49)
    ax.set_xticks(T_TICKS)
    ax.set_xticks([5, 15, 25, 35, 45], minor=True)
    ax.set_yticklabels(P_LABELS)
    ax.set_xlabel("t", fontsize=14, labelpad=3)
    ax.set_ylabel("p", fontsize=14, labelpad=5)


def draw_hist(ax, finals, step):
    counts, _, _ = ax.hist(finals, bins=BIN_EDGES, orientation="horizontal",
                           color="#4A4A4A", edgecolor="white", linewidth=LW)
    style_panel(ax, show_labels=False)
    top = counts.max()
    ax.set_xlim(-0.05 * top, 1.05 * top)
    major = np.arange(0, 1.05 * top, step)
    ax.set_xticks(major)
    ax.set_xticks(major[:-1] + step / 2, minor=True)


def main():
    plt.rcParams["font.family"] = ["Liberation Sans", "DejaVu Sans"]
    fig = plt.figure(figsize=(1344 / 144, 960 / 144), dpi=144)

    p10 = [np.array(full_length(p)) / 20 for p in paths_n10]
    p500 = [np.array(p) / 1000 for p in paths_n500]

    rows = [(p10, 10, 0.5885, "n = 10", 54), (p500, 5, 0.1034, "n = 500", 520)]
    for paths, step, bottom, title, title_y in rows:
        ax_main = fig.add_axes([0.1017, bottom, 0.6795, 0.3323])
        ax_hist = fig.add_axes([0.8086, bottom, 0.1699, 0.3323])
        draw_paths(ax_main, paths)
        draw_hist(ax_hist, [p[-1] for p in paths], step)
        fig.text(137 / 1344, 1 - title_y / 960, title, fontsize=15,
                 ha="left", va="baseline")

    fig.savefig("out.png", dpi=144)


if __name__ == "__main__":
    main()
